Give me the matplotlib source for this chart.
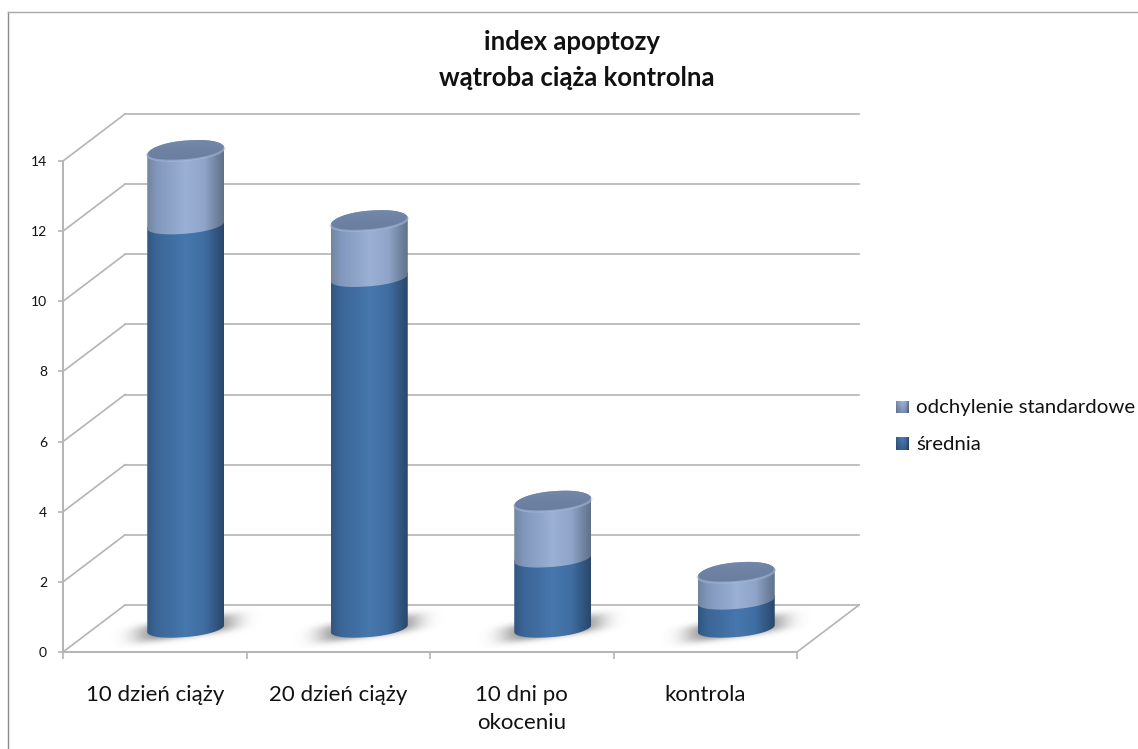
import matplotlib
matplotlib.use('Agg')
import matplotlib.pyplot as plt
from matplotlib.colors import LinearSegmentedColormap
from matplotlib.patches import Polygon
import numpy as np

categories = ['10 dzień ciąży', '20 dzień ciąży', '10 dni po\nokoceniu', 'kontrola']
srednia = [11.5, 10.0, 2.0, 0.8]
odchylenie = [2.1, 1.6, 1.6, 0.77]
legend_labels = ['odchylenie standardowe', 'średnia']
y_ticks = [0, 2, 4, 6, 8, 10, 12, 14]

W, H = 1138, 749
GRID = '#b4b4b4'

# axes box is the front plane of the 3d chart, in pixels
LEFT, RIGHT, BOTTOM, TOP = 63, 797, 652, 161
PX_X = (RIGHT - LEFT) / len(categories)
PX_Y = (BOTTOM - TOP) / 14.0
DX, DY = 62 / PX_X, 47 / PX_Y

# cylinder shape in data units
HALF = 38.5 / PX_X
FRONT = 8.5 / PX_Y
BACK = 11.0 / PX_Y
SHEAR = 3.5 / PX_Y

dark_cmap = LinearSegmentedColormap.from_list('dark', [
    (0.0, '#315780'), (0.12, '#3b6596'), (0.5, '#4677ad'),
    (0.75, '#406ea2'), (0.93, '#2f527a'), (1.0, '#2a466a')])
light_cmap = LinearSegmentedColormap.from_list('light', [
    (0.0, '#72859f'), (0.12, '#8197bb'), (0.5, '#9bb0d5'),
    (0.75, '#8fa4c8'), (0.93, '#6c7f9b'), (1.0, '#617189')])
top_cmap = LinearSegmentedColormap.from_list('top', [
    (0.0, '#7c90b2'), (0.4, '#6f83a5'), (1.0, '#66799a')])


def arc(cx, y, t):
    c, s = np.cos(t), np.sin(t)
    xs = cx + HALF * np.sign(c) * np.abs(c) ** 0.93
    minor = np.where(s > 0, BACK, FRONT)
    ys = y + minor * s + SHEAR * c
    return np.column_stack([xs, ys])


def segment(ax, cx, y0, y1, cmap, z):
    # side of the cylinder: front arc at the bottom, back arc at the top
    low = arc(cx, y0, np.linspace(np.pi, 2 * np.pi, 80))
    high = arc(cx, y1, np.linspace(0, np.pi, 80))
    clip = Polygon(np.vstack([low, high]), closed=True, transform=ax.transData)
    grad = np.linspace(0, 1, 128).reshape(1, -1)
    im = ax.imshow(grad, cmap=cmap, aspect='auto', zorder=z, interpolation='bilinear',
                   extent=[cx - HALF, cx + HALF, y0 - 2 * BACK, y1 + 2 * BACK])
    im.set_clip_path(clip)
    im.set_clip_box(fig.bbox)


def shadow(ax, cx, y):
    # soft blurred patch on the floor under a cylinder, sized in pixels
    u = np.linspace(-80, 80, 200)
    v = np.linspace(-26, 26, 80)
    uu, vv = np.meshgrid(u, v)
    sheared = vv - 0.14 * uu
    a = np.exp(-(np.abs(uu) / 50) ** 4 - (np.abs(sheared) / 9) ** 3)
    rgba = np.zeros(a.shape + (4,))
    rgba[..., :3] = 0.45
    rgba[..., 3] = 0.85 * a
    im = ax.imshow(rgba, aspect='auto', zorder=2, interpolation='bilinear', origin='lower',
                   extent=[cx - 80 / PX_X, cx + 80 / PX_X, y - 26 / PX_Y, y + 26 / PX_Y])
    im.set_clip_box(fig.bbox)


fig = plt.figure(figsize=(W / 100, H / 100), dpi=100)
plt.rcParams['font.family'] = ['Lato', 'DejaVu Sans']
ax = fig.add_axes([LEFT / W, (H - BOTTOM) / H, (RIGHT - LEFT) / W, (BOTTOM - TOP) / H])
ax.patch.set_alpha(0)

n = len(categories)

# back wall gridlines and the slanted side wall
for v in y_ticks:
    ax.plot([DX, n + DX], [v + DY, v + DY], color=GRID, lw=1.2, zorder=1, clip_on=False)
    ax.plot([0, DX], [v, v + DY], color=GRID, lw=1.2, zorder=1, clip_on=False)
ax.plot([n, n + DX], [0, DY], color=GRID, lw=1.2, zorder=1, clip_on=False)

for i in range(n):
    cx = i + 0.5 + DX / 2
    base = DY / 2
    mean_top = base + srednia[i]
    total_top = mean_top + odchylenie[i]
    shadow(ax, cx, base)
    segment(ax, cx, base, mean_top, dark_cmap, 3)
    segment(ax, cx, mean_top, total_top, light_cmap, 4)

    cap = Polygon(arc(cx, total_top, np.linspace(0, 2 * np.pi, 160)), closed=True,
                  transform=ax.transData)
    grad = np.linspace(0, 1, 64).reshape(-1, 1)
    im = ax.imshow(grad, cmap=top_cmap, aspect='auto', zorder=5, interpolation='bilinear',
                   extent=[cx - HALF, cx + HALF, total_top - 2 * BACK, total_top + 2 * BACK])
    im.set_clip_path(cap)
    im.set_clip_box(fig.bbox)
    rim = arc(cx, total_top, np.linspace(np.pi, 2 * np.pi, 80))
    ax.plot(rim[:, 0], rim[:, 1], color='#a9bcdd', lw=1.6, alpha=0.55, zorder=6, clip_on=False)

ax.set_xlim(0, n)
ax.set_ylim(0, 14)
ax.set_yticks(y_ticks)
ax.set_xticks(range(n + 1))
ax.set_xticklabels([])
ax.set_xticks([i + 0.5 for i in range(n)], minor=True)
ax.set_xticklabels(categories, minor=True, fontsize=16, color='#111111', linespacing=1.45, va='top')
ax.tick_params(axis='x', which='minor', length=0, pad=24)
ax.tick_params(axis='x', which='major', length=5, width=1.2, color=GRID)
ax.tick_params(axis='y', length=3.5, width=1.2, color=GRID, labelsize=10, labelcolor='#111111', pad=8)
for s in ['top', 'right']:
    ax.spines[s].set_visible(False)
for s in ['left', 'bottom']:
    ax.spines[s].set_color(GRID)
    ax.spines[s].set_linewidth(1.4)

fig.text(572 / W, 1 - 42 / H, 'index apoptozy', fontsize=18.5, fontweight='bold',
         ha='center', va='center', color='#111111')
fig.text(577 / W, 1 - 78 / H, 'wątroba ciąża kontrolna', fontsize=18.5, fontweight='bold',
         ha='center', va='center', color='#111111')

# legend swatches shaded darker towards the edges, then their labels
swatch_cmaps = [light_cmap, dark_cmap]
for label, cmap, yc in zip(legend_labels, swatch_cmaps, [407, 443.5]):
    sw = fig.add_axes([896 / W, 1 - (yc + 6.5) / H, 13 / W, 13 / H])
    gx, gy = np.meshgrid(np.linspace(0, 1, 32), np.linspace(0.25, 1, 32))
    shade = cmap(gx)
    shade[..., :3] *= (1.12 - 0.3 * gy[..., None]).clip(0, 1.2)
    sw.imshow(shade.clip(0, 1), aspect='auto')
    sw.axis('off')
    fig.text(916 / W, 1 - (yc + 0.5) / H, label, fontsize=14.7, va='center', color='#111111')

# chart frame, open on the right and at the bottom
fig.add_artist(plt.Line2D([7.5 / W, 7.5 / W], [0, 1 - 11.5 / H], color='#8c8c8c', lw=1.0))
fig.add_artist(plt.Line2D([7.5 / W, 1], [1 - 11.5 / H, 1 - 11.5 / H], color='#a8a8a8', lw=1.0))

fig.savefig('out.png', dpi=100)
